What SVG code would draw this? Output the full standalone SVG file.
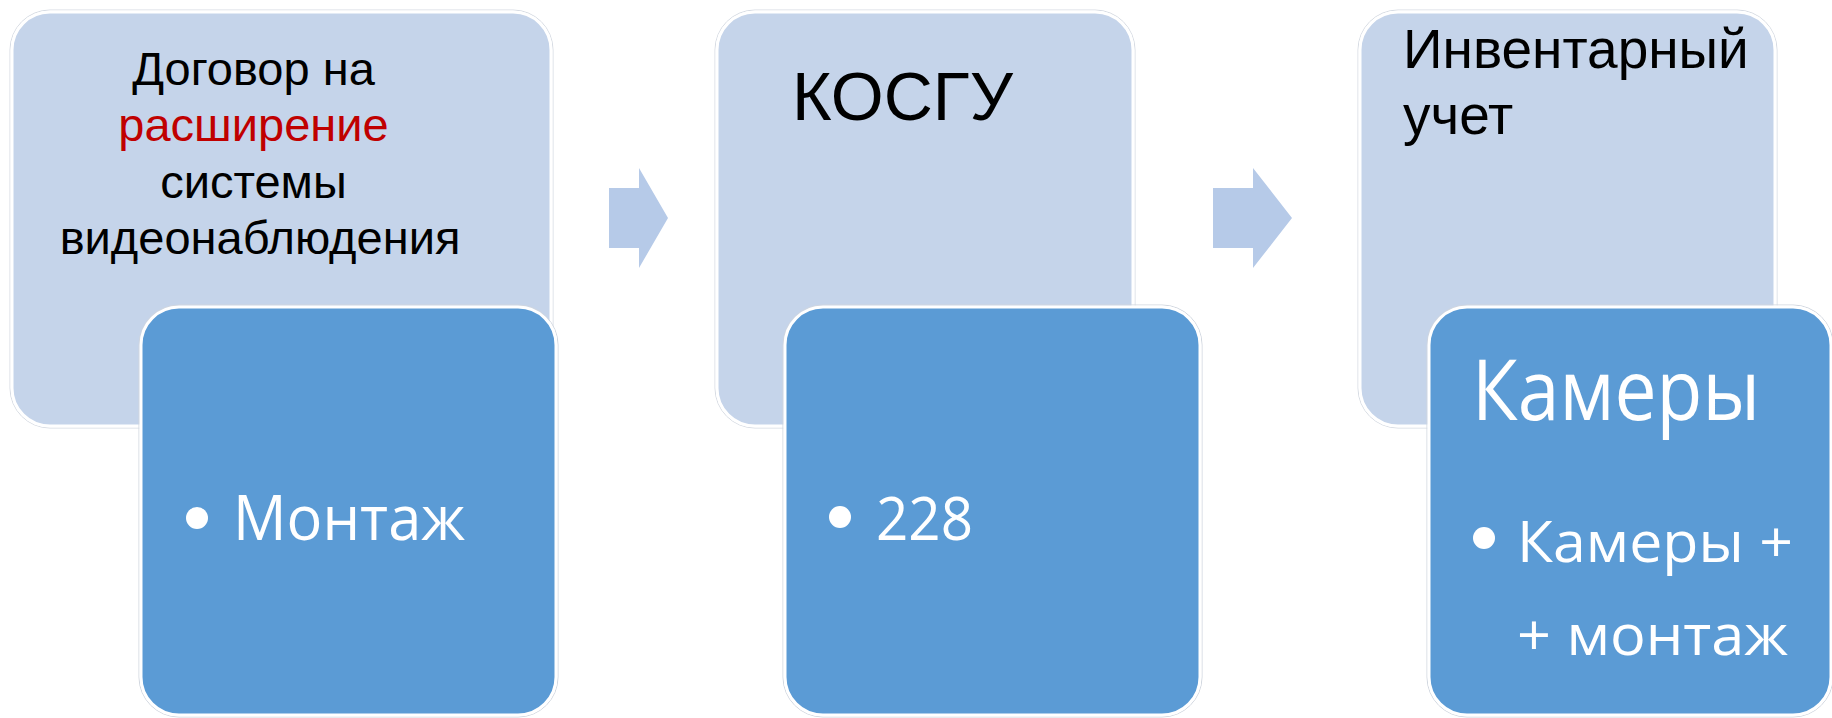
<svg xmlns="http://www.w3.org/2000/svg" width="1832" height="718" viewBox="0 0 1832 718">
<style>
.light{fill:#c5d4ea;stroke:#ffffff;stroke-width:3}
.lightEdge{fill:none;stroke:#d6dbe3;stroke-width:1}
.dark{fill:#5b9bd5;stroke:#ffffff;stroke-width:3}
.darkEdge{fill:none;stroke:#d0d6df;stroke-width:1}
.arrow{fill:#b6cae8}
.hdr{font-family:"Liberation Sans",Arial,sans-serif;fill:#000000}
.red{fill:#c00000}
.body{font-family:"Open Sans","Noto Sans",sans-serif;fill:#ffffff}
.dot{fill:#ffffff}
</style>
<rect width="1832" height="718" fill="#ffffff"/>
<g id="node-dogovor">
  <rect class="lightEdge" x="10" y="10" width="543" height="418" rx="40"/>
  <rect class="light" x="12" y="12" width="539" height="414" rx="38"/>
  <text class="hdr" font-size="47" text-anchor="middle">
    <tspan x="260" y="85">Договор на</tspan>
    <tspan x="260" y="141" class="red">расширение</tspan>
    <tspan x="260" y="198">системы</tspan>
    <tspan x="260" y="254">видеонаблюдения</tspan>
  </text>
</g>
<g id="node-kosgu">
  <rect class="lightEdge" x="715" y="10" width="420" height="418" rx="40"/>
  <rect class="light" x="717" y="12" width="416" height="414" rx="38"/>
  <text class="hdr" font-size="68" x="792" y="120">КОСГУ</text>
</g>
<g id="node-inventar">
  <rect class="lightEdge" x="1358" y="10" width="419" height="418" rx="40"/>
  <rect class="light" x="1360" y="12" width="415" height="414" rx="38"/>
  <text class="hdr" font-size="55">
    <tspan x="1403" y="68">Инвентарный</tspan>
    <tspan x="1403" y="134">учет</tspan>
  </text>
</g>
<g id="connectors">
  <polygon class="arrow" points="609,188 639,188 639,168 668,218 639,268 639,248 609,248"/>
  <polygon class="arrow" points="1213,188 1253,188 1253,168 1292,218 1253,268 1253,248 1213,248"/>
</g>
<g id="node-montazh">
  <rect class="darkEdge" x="139" y="305" width="419" height="412" rx="40"/>
  <rect class="dark" x="141" y="307" width="415" height="408" rx="38"/>
  <circle class="dot" cx="197" cy="518" r="11"/>
  <text class="body" font-size="63" x="233" y="540" textLength="232" lengthAdjust="spacingAndGlyphs">Монтаж</text>
</g>
<g id="node-228">
  <rect class="darkEdge" x="783" y="305" width="419" height="412" rx="40"/>
  <rect class="dark" x="785" y="307" width="415" height="408" rx="38"/>
  <circle class="dot" cx="840" cy="517" r="11"/>
  <text class="body" font-size="61" x="876" y="540" textLength="97" lengthAdjust="spacingAndGlyphs">228</text>
</g>
<g id="node-kamery">
  <rect class="darkEdge" x="1427" y="305" width="406" height="412" rx="40"/>
  <rect class="dark" x="1429" y="307" width="402" height="408" rx="38"/>
  <text class="body" font-size="84" x="1472" y="420" textLength="288" lengthAdjust="spacingAndGlyphs">Камеры</text>
  <circle class="dot" cx="1484" cy="538" r="11"/>
  <text class="body" font-size="56" x="1517" y="562" textLength="276" lengthAdjust="spacingAndGlyphs">Камеры +</text>
  <text class="body" font-size="56" x="1517" y="655" textLength="271" lengthAdjust="spacingAndGlyphs">+ монтаж</text>
</g>
</svg>
